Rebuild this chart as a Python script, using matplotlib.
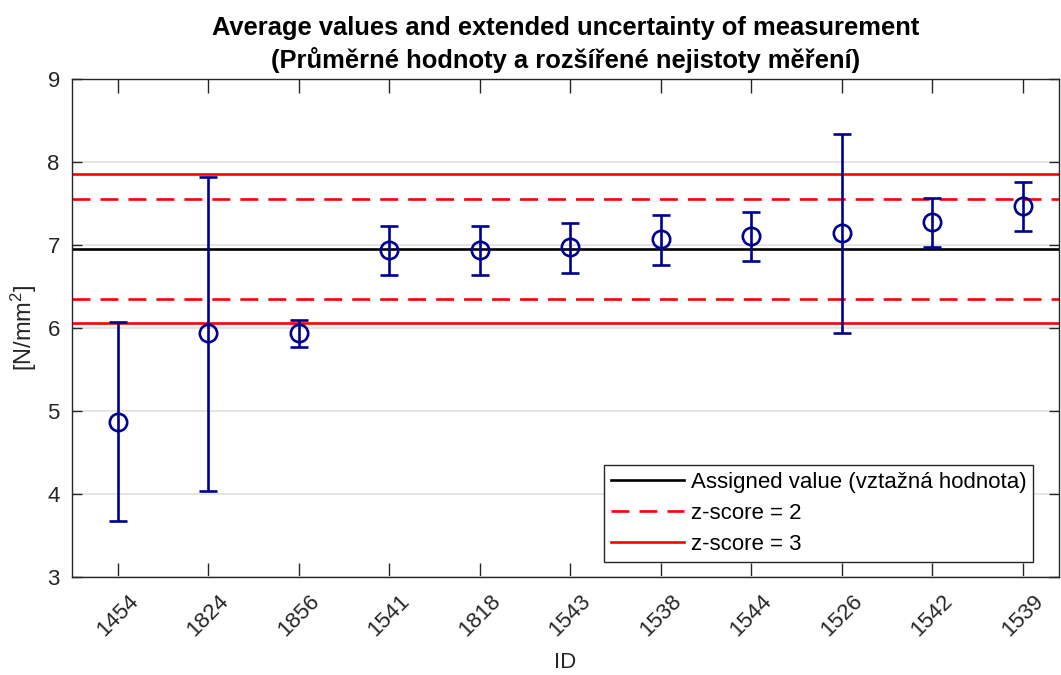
"""
Proficiency-test plot: participant means with expanded uncertainty,
assigned value and z-score limits.
"""
import matplotlib
matplotlib.use("Agg")
import matplotlib.pyplot as plt

plt.rcParams.update({
    "font.family": ["Liberation Sans", "DejaVu Sans"],
    "mathtext.fontset": "custom",
    "mathtext.rm": "Liberation Sans",
    "mathtext.it": "Liberation Sans",
    "font.size": 16,
})

# laboratory IDs, ordered by mean value
lab_ids = ["1454", "1824", "1856", "1541", "1818", "1543",
           "1538", "1544", "1526", "1542", "1539"]
means = [4.87, 5.94, 5.94, 6.94, 6.94, 6.97, 7.07, 7.11, 7.14, 7.27, 7.47]
unc_low = [1.20, 1.91, 0.17, 0.31, 0.31, 0.31, 0.31, 0.31, 1.20, 0.30, 0.31]
unc_high = [1.20, 1.88, 0.15, 0.29, 0.29, 0.29, 0.29, 0.28, 1.19, 0.29, 0.29]

assigned = 6.95
z2_limits = [7.55, 6.35]
z3_limits = [7.85, 6.06]

AX_GREY = "#262626"
NAVY = "#00008f"
LW = 1.9

fig = plt.figure(figsize=(10.61, 6.75), dpi=100)
ax = fig.add_axes([0.0681, 0.1456, 0.930, 0.7378])

x = range(1, len(lab_ids) + 1)
ax.axhline(assigned, color="black", lw=LW, label="Assigned value (vztažná hodnota)")
for i, v in enumerate(z2_limits):
    ax.axhline(v, color="red", lw=LW, dashes=(6.8, 3.8),
               label="z-score = 2" if i == 0 else None)
for i, v in enumerate(z3_limits):
    ax.axhline(v, color="red", lw=LW,
               label="z-score = 3" if i == 0 else None)

ax.errorbar(list(x), means, yerr=[unc_low, unc_high], fmt="o", color=NAVY,
            mfc="none", ms=12.5, mew=LW, elinewidth=LW, capsize=6.5,
            capthick=LW, zorder=5)

ax.set_xlim(0.5, 11.4)
ax.set_ylim(3, 9)
ax.set_xticks(list(x))
ax.set_xticklabels(lab_ids, rotation=45, ha="center")
ax.set_yticks(range(3, 10))

ax.grid(axis="y", color="#e3e3e3", lw=1.3)
ax.set_axisbelow(True)
for s in ax.spines.values():
    s.set_color(AX_GREY)
    s.set_linewidth(1.0)
ax.tick_params(direction="in", top=True, right=True, colors=AX_GREY,
               labelcolor=AX_GREY, width=1.0)
ax.tick_params(axis="x", length=10, pad=10)
ax.tick_params(axis="y", length=7, pad=9)

ax.set_xlabel("ID", color=AX_GREY, labelpad=8)
ax.set_ylabel("[N/mm$^2$]", color=AX_GREY, fontsize=17, labelpad=6)
ax.set_title("Average values and extended uncertainty of measurement\n"
             "(Průměrné hodnoty a rozšířené nejistoty měření)",
             fontsize=18.4, fontweight="bold", pad=8, linespacing=1.3)

leg = ax.legend(loc="lower right", bbox_to_anchor=(0.985, 0.008),
                fontsize=16, handlelength=3.3, handletextpad=0.3,
                labelspacing=0.45, borderpad=0.3, fancybox=False,
                framealpha=1, edgecolor=AX_GREY)
leg.get_frame().set_linewidth(1.0)

fig.savefig("out.png", dpi=100)
